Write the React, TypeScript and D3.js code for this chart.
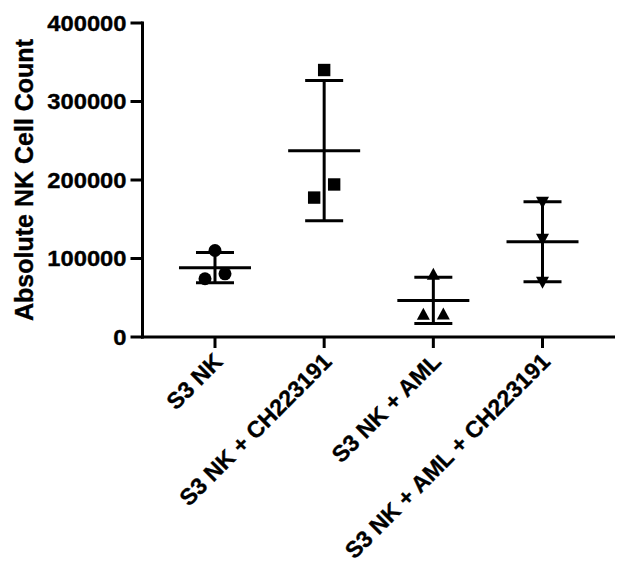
import React from "react";
import * as d3 from "d3";

const categories = ["S3 NK", "S3 NK + CH223191", "S3 NK + AML", "S3 NK + AML + CH223191"];
const s3nk = [110200, 80500, 74200];
const s3nkCh = [340100, 194300, 177600];
const s3nkAml = [80500, 29500, 29800];
const s3nkAmlCh = [170900, 123800, 69100];
const seriesValues = [s3nk, s3nkCh, s3nkAml, s3nkAmlCh];
const markerShapes = ["circle", "square", "triangle", "triangleDown"];
const yTicks = [0, 100000, 200000, 300000, 400000];
const yLabel = "Absolute NK Cell Count";

const W = 620;
const H = 576;
const FONT = "'Liberation Sans', Arial, Helvetica, sans-serif";

function markerPath(shape: string, cx: number, cy: number): string {
  const p = d3.path();
  if (shape === "square") {
    const h = 6.2;
    p.rect(cx - h, cy - h, 2 * h, 2 * h);
    return p.toString();
  }
  const hw = 6.5;
  const hh = 6;
  if (shape === "triangle") {
    p.moveTo(cx, cy - hh);
    p.lineTo(cx + hw, cy + hh);
    p.lineTo(cx - hw, cy + hh);
    p.closePath();
  } else {
    p.moveTo(cx - hw, cy - hh);
    p.lineTo(cx + hw, cy - hh);
    p.lineTo(cx, cy + hh);
    p.closePath();
  }
  return p.toString();
}

export default function App() {
  const x0 = 142.5;
  const x1 = 615;
  const y = d3.scaleLinear().domain([0, 400000]).range([337, 23]);
  const x = d3.scalePoint<string>().domain(categories).range([x0, x1]).padding(0.664);

  const meanHalf = 36;
  const capHalf = 19;
  const sw = 3;

  // simple horizontal spread of points that overlap vertically
  function spread(vals: number[]): number[] {
    const ys = vals.map((v) => y(v));
    const offsets = vals.map(() => 0);
    const used = vals.map(() => false);
    for (let i = 0; i < vals.length; i++) {
      if (used[i]) continue;
      const cluster = [i];
      used[i] = true;
      for (let j = i + 1; j < vals.length; j++) {
        if (!used[j] && Math.abs(ys[j] - ys[i]) < 16) {
          cluster.push(j);
          used[j] = true;
        }
      }
      if (cluster.length > 1) {
        cluster.sort((a, b) => vals[a] - vals[b]);
        const n = cluster.length;
        cluster.forEach((k, idx) => {
          offsets[k] = (idx - (n - 1) / 2) * 20;
        });
      }
    }
    return offsets;
  }

  const txtStroke = { stroke: "#000", strokeWidth: 0.35 };

  return (
    <svg width={W} height={H} style={{ display: "block", position: "absolute", left: 0, top: 0 }} fontFamily={FONT}>
      <rect width={W} height={H} fill="#fff" />
      {/* y axis */}
      <line x1={x0} x2={x0} y1={y(400000) - 1.5} y2={y(0) + 1.5} stroke="#000" strokeWidth={sw} />
      {yTicks.map((t) => (
        <g key={t}>
          <line x1={x0 - 12} x2={x0} y1={y(t)} y2={y(t)} stroke="#000" strokeWidth={sw} />
          <text
            transform={`translate(${x0 - 16},${y(t)}) scale(1.08,1)`}
            dy="0.36em"
            textAnchor="end"
            fontSize={22}
            fontWeight="bold"
            {...txtStroke}
          >
            {t}
          </text>
        </g>
      ))}
      <text
        transform={`translate(33,${180}) rotate(-90)`}
        textAnchor="middle"
        fontSize={25}
        fontWeight="bold"
        {...txtStroke}
      >
        {yLabel}
      </text>
      {/* x axis */}
      <line x1={x0 - 1.5} x2={x1} y1={y(0)} y2={y(0)} stroke="#000" strokeWidth={sw} />
      {categories.map((c) => {
        const cx = x(c) as number;
        return (
          <g key={c}>
            <line x1={cx} x2={cx} y1={y(0)} y2={y(0) + 11} stroke="#000" strokeWidth={sw} />
            <text
              transform={`translate(${cx + 9},${y(0) + 26}) rotate(-45)`}
              textAnchor="end"
              fontSize={23}
              fontWeight="bold"
              {...txtStroke}
            >
              {c}
            </text>
          </g>
        );
      })}
      {/* data */}
      {seriesValues.map((vals, gi) => {
        const cx = x(categories[gi]) as number;
        const m = d3.mean(vals) as number;
        const sd = d3.deviation(vals) as number;
        const offs = spread(vals);
        const shape = markerShapes[gi];
        return (
          <g key={gi}>
            {vals.map((v, i) =>
              shape === "circle" ? (
                <circle key={i} cx={cx + offs[i]} cy={y(v)} r={6.5} fill="#000" />
              ) : (
                <path key={i} d={markerPath(shape, cx + offs[i], y(v))} fill="#000" />
              )
            )}
            <line x1={cx} x2={cx} y1={y(m + sd)} y2={y(m - sd)} stroke="#000" strokeWidth={sw} />
            <line x1={cx - capHalf} x2={cx + capHalf} y1={y(m + sd)} y2={y(m + sd)} stroke="#000" strokeWidth={sw} />
            <line x1={cx - capHalf} x2={cx + capHalf} y1={y(m - sd)} y2={y(m - sd)} stroke="#000" strokeWidth={sw} />
            <line x1={cx - meanHalf} x2={cx + meanHalf} y1={y(m)} y2={y(m)} stroke="#000" strokeWidth={sw} />
          </g>
        );
      })}
    </svg>
  );
}
